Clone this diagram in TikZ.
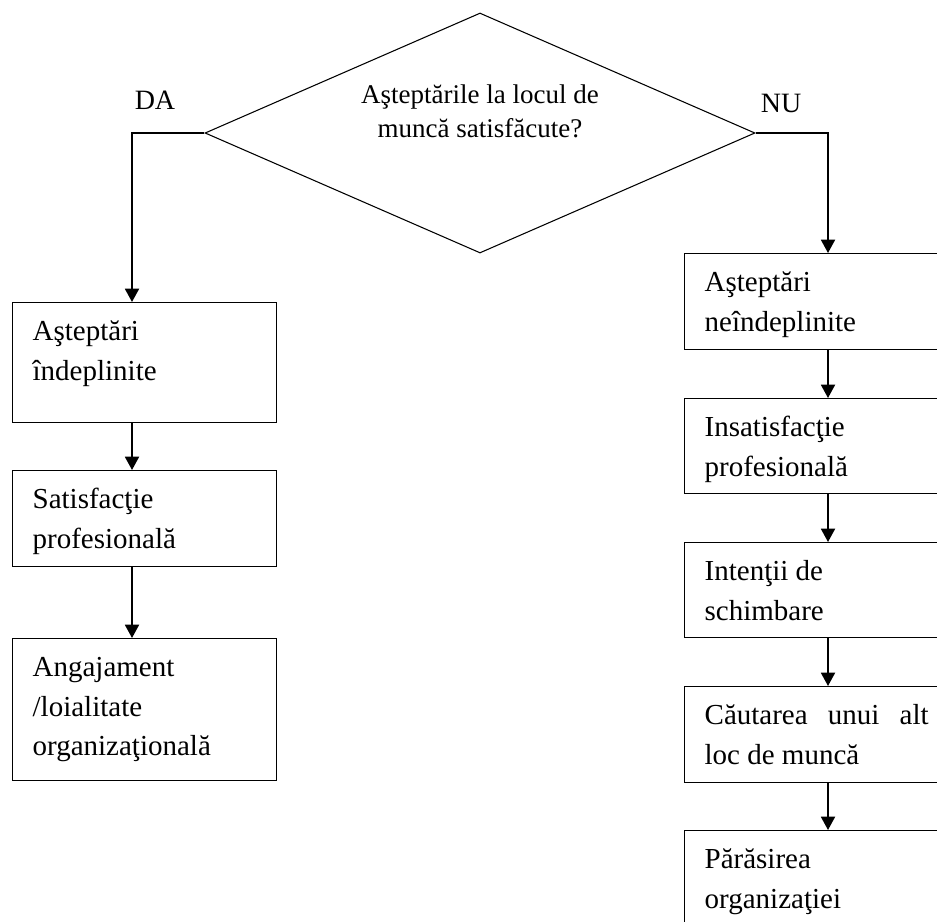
\documentclass[tikz,border=0pt]{standalone}
\usepackage{fontspec}
\setmainfont{Liberation Serif}
\usetikzlibrary{arrows.meta}
\usetikzlibrary{shapes.geometric}

\newcommand{\stagetext}[2]{\parbox[c][#1][t]{168pt}{\fontsize{21.75pt}{29.6pt}\selectfont\rule{0pt}{28.5pt}#2}}

\begin{document}
\begin{tikzpicture} [x=0.75pt, y=-0.75pt,
  stage/.style={draw, line width=1pt, anchor=north west, inner xsep=15pt, inner ysep=0pt},
  decision/.style={draw, diamond, line width=0.8pt, aspect=2, inner sep=0pt, minimum width=412.5pt, minimum height=180pt},
  flow/.style={line width=1.4pt, -{Triangle[width=10.5pt,length=10pt]}},
  answer/.style={anchor=base, font=\fontsize{21pt}{25pt}\selectfont}]
\useasboundingbox (0,0) rectangle (937,921);
\coordinate (lx) at (132,0);
\coordinate (rx) at (828,0);
% decizia
\node[decision] (dec) at (480,133) {};
\node[align=center, inner sep=0pt, font=\fontsize{20.25pt}{25.5pt}\selectfont] (q) at (480,111) {Aşteptările la locul de\\muncă satisfăcute?};
\node[answer] (da) at (155,109) {DA};
\node[answer] (nu) at (781,112) {NU};
% ramura DA
\node[stage] (l1) at (12,302) {\stagetext{90pt}{Aşteptări\\îndeplinite}};
\node[stage] (l2) at (12,470) {\stagetext{72pt}{Satisfacţie\\profesională}};
\node[stage] (l3) at (12,638) {\stagetext{106.5pt}{Angajament\\/loialitate\\organizaţională}};
% ramura NU
\node[stage] (r1) at (684,253) {\stagetext{72pt}{Aşteptări\\neîndeplinite}};
\node[stage] (r2) at (684,398) {\stagetext{71.25pt}{Insatisfacţie\\profesională}};
\node[stage] (r3) at (684,542) {\stagetext{71.25pt}{Intenţii de\\schimbare}};
\node[stage] (r4) at (684,686) {\stagetext{72pt}{Căutarea unui alt loc de muncă}};
\node[stage] (r5) at (684,830) {\stagetext{90pt}{Părăsirea\\organizaţiei}};
\draw[flow] (dec.west) -| (l1.north -| lx);
\draw[flow] (dec.east) -| (r1.north -| rx);
\foreach \a/\b in {l1/l2, l2/l3}
 \draw[flow] (\a.south -| lx) -- (\b.north -| lx);
\foreach \a/\b in {r1/r2, r2/r3, r3/r4, r4/r5}
 \draw[flow] (\a.south -| rx) -- (\b.north -| rx);
\end{tikzpicture}
\end{document}
